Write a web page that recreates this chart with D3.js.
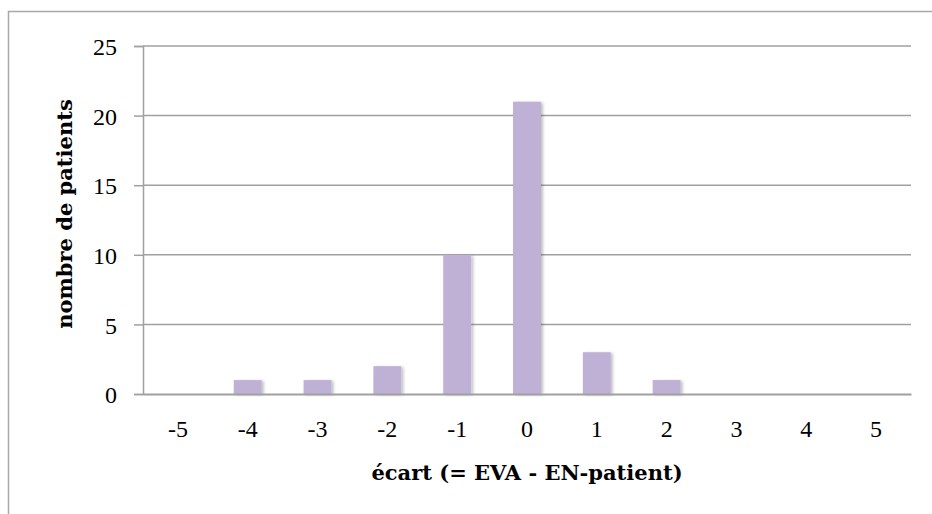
<!DOCTYPE html>
<html>
<head>
<meta charset="utf-8">
<script src="https://cdn.jsdelivr.net/npm/d3@7"></script>
<style>
  html, body { margin: 0; padding: 0; background: #fff; }
  svg { display: block; }
  text { font-family: "Liberation Serif", "DejaVu Serif", serif; fill: #000; }
</style>
</head>
<body>
<svg id="chart" width="932" height="514"></svg>
<script>
// Distribution of the gap between the two pain scores
const categories = ["-5", "-4", "-3", "-2", "-1", "0", "1", "2", "3", "4", "5"];
const patients   = [0, 1, 1, 2, 10, 21, 3, 1, 0, 0, 0];
const yTicks     = [0, 5, 10, 15, 20, 25];
const xTitle = "écart (= EVA - EN-patient)";
const yTitle = "nombre de patients";

const svg = d3.select("#chart");
const plot = { left: 143, right: 911, top: 46, bottom: 394 };

// frame around the whole chart
svg.append("rect")
  .attr("x", 8.5).attr("y", 11.5)
  .attr("width", 960).attr("height", 560)
  .attr("fill", "none").attr("stroke", "#a8a8a8").attr("stroke-width", 1.5);

const defs = svg.append("defs");
const shadow = defs.append("filter").attr("id", "barShadow")
  .attr("x", "-20%").attr("y", "-10%").attr("width", "150%").attr("height", "130%");
shadow.append("feDropShadow")
  .attr("dx", 2).attr("dy", 1).attr("stdDeviation", 1.5)
  .attr("flood-color", "#000").attr("flood-opacity", 0.25);

const x = d3.scaleBand()
  .domain(categories)
  .range([plot.left, plot.right])
  .paddingInner(0.6)
  .paddingOuter(0.3);

const y = d3.scaleLinear()
  .domain([0, 25])
  .range([plot.bottom, plot.top]);

// horizontal gridlines with short ticks to the left
const yAxis = d3.axisLeft(y).tickValues(yTicks).tickSize(9).tickPadding(17);
const gy = svg.append("g").attr("transform", `translate(${plot.left},0)`).call(yAxis);
gy.select(".domain").attr("stroke", "#a0a0a0").attr("stroke-width", 1.5);
gy.selectAll(".tick line").attr("stroke", "#a0a0a0").attr("stroke-width", 1.5);
gy.selectAll(".tick text").attr("font-size", 24).attr("dy", "0.36em")
  .style("font-family", "'Liberation Serif', serif");

svg.append("g").selectAll("line.grid")
  .data(yTicks.filter(d => d !== 0))
  .join("line")
  .attr("x1", plot.left).attr("x2", plot.right)
  .attr("y1", d => y(d)).attr("y2", d => y(d))
  .attr("stroke", "#a0a0a0").attr("stroke-width", 1.5);

// bars
svg.append("g").selectAll("rect")
  .data(categories.map((c, i) => ({ c, v: patients[i] })).filter(d => d.v > 0))
  .join("rect")
  .attr("x", d => x(d.c))
  .attr("y", d => y(d.v))
  .attr("width", x.bandwidth())
  .attr("height", d => y(0) - y(d.v))
  .attr("fill", "#bfb1d5")
  .attr("filter", "url(#barShadow)");

// baseline
const xAxis = d3.axisBottom(x).tickSize(0).tickPadding(26);
const gx = svg.append("g").attr("transform", `translate(0,${plot.bottom})`).call(xAxis);
gx.select(".domain").attr("stroke", "#a0a0a0").attr("stroke-width", 2);
gx.selectAll(".tick text").attr("font-size", 24)
  .style("font-family", "'Liberation Serif', serif");

// axis titles
svg.append("text")
  .attr("x", (plot.left + plot.right) / 2)
  .attr("y", 480)
  .attr("text-anchor", "middle")
  .attr("font-size", 21).attr("font-weight", "bold")
  .style("font-family", "'DejaVu Serif', serif")
  .text(xTitle);

svg.append("text")
  .attr("transform", "translate(72,214) rotate(-90)")
  .attr("text-anchor", "middle")
  .attr("font-size", 21).attr("font-weight", "bold")
  .style("font-family", "'DejaVu Serif', serif")
  .text(yTitle);
</script>
</body>
</html>
